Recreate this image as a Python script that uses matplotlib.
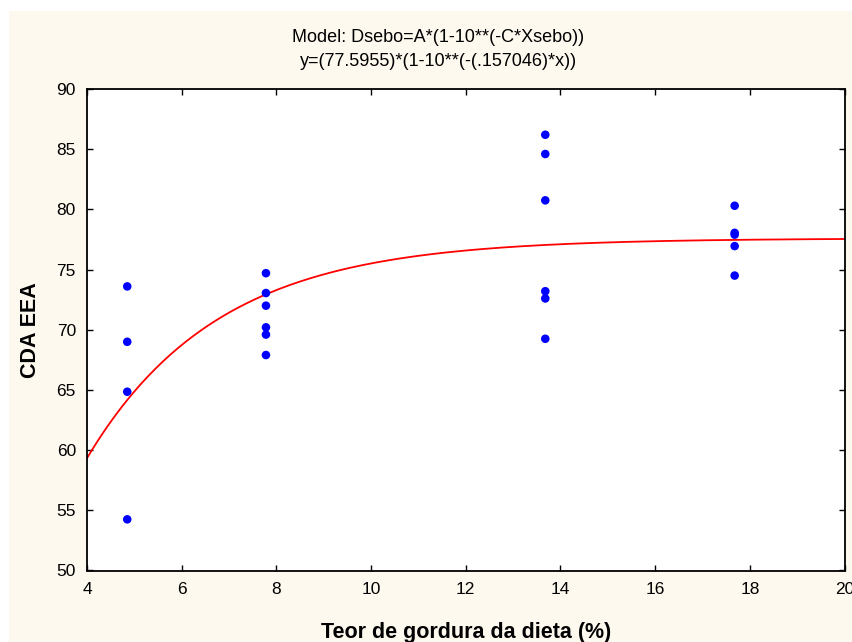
import numpy as np
import matplotlib
matplotlib.use('Agg')
import matplotlib.pyplot as plt
from matplotlib.patches import Rectangle

plt.rcParams['font.family'] = ['Liberation Sans', 'DejaVu Sans']

# dados: teor de gordura (%) x CDA EEA
gordura = [4.85] * 4 + [7.78] * 6 + [13.68] * 6 + [17.68] * 5
cda_eea = [73.6, 69.0, 64.85, 54.25,
           74.7, 73.05, 72.0, 70.2, 69.6, 67.9,
           86.2, 84.6, 80.75, 73.2, 72.6, 69.25,
           80.3, 78.05, 77.9, 76.95, 74.5]

# parametros do modelo ajustado (do titulo)
A = 77.5955
C = 0.157046

fig = plt.figure(figsize=(8.52, 6.42), dpi=100, facecolor='white')
fig.patches.append(Rectangle((9 / 852, 0), 1, 1 - 11 / 642, transform=fig.transFigure,
                             facecolor='#fdf9ef', edgecolor='none', zorder=-10))

ax = fig.add_axes([87 / 852, 1 - 570.5 / 642, 757.5 / 852, 481.5 / 642])
ax.set_facecolor('white')

xs = np.linspace(4, 20, 300)
ax.plot(xs, A * (1 - 10 ** (-C * xs)), color='red', lw=1.3, zorder=2)
ax.scatter(gordura, cda_eea, s=38, color='#0000ff', edgecolors='none', zorder=3)

ax.set_xlim(4, 20)
ax.set_ylim(50, 90)
ax.set_xticks(range(4, 21, 2))
ax.set_yticks(range(50, 91, 5))
ax.tick_params(direction='in', length=4, width=1, labelsize=12.5, pad=8,
               top=True, right=True, colors='black')
for s in ax.spines.values():
    s.set_linewidth(1.3)

ax.set_xlabel('Teor de gordura da dieta (%)', fontsize=15.5, fontweight='bold', labelpad=18)
ax.set_ylabel('CDA EEA', fontsize=15.5, fontweight='bold', labelpad=11)

fig.text(438 / 852, 1 - 37 / 642, 'Model: Dsebo=A*(1-10**(-C*Xsebo))',
         ha='center', va='center', fontsize=13)
fig.text(438 / 852, 1 - 62 / 642, 'y=(77.5955)*(1-10**(-(.157046)*x))',
         ha='center', va='center', fontsize=13)

fig.savefig('out.png', dpi=100, facecolor=fig.get_facecolor())
